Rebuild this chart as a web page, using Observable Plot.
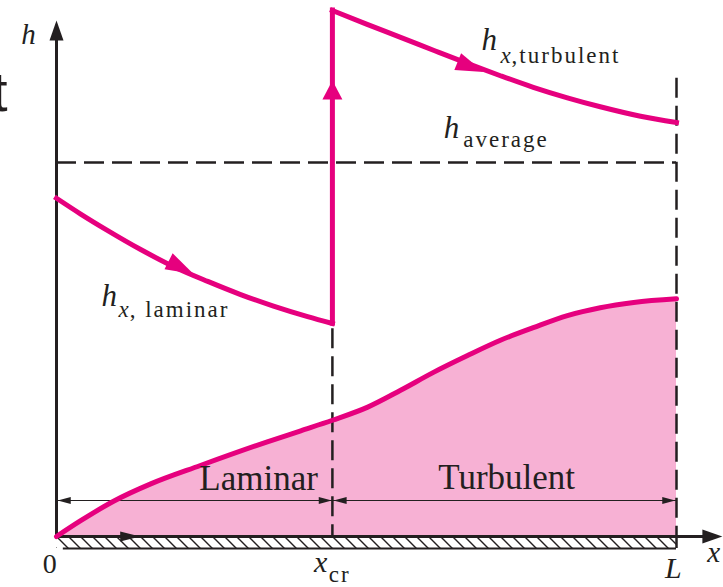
<!DOCTYPE html>
<html><head><meta charset="utf-8">
<script src="https://cdn.jsdelivr.net/npm/d3@7"></script>
<script src="https://cdn.jsdelivr.net/npm/@observablehq/plot@0.6"></script>
<style>body{margin:0;background:#fff;} #chart{width:723px;height:587px;overflow:hidden}</style>
</head><body><div id="chart"></div>
<script>
// ---- data (x: fraction of plate length L, h: relative height) ----
const X_CR = 0.445;
const H_AVG = 71.1;
const DIM_H = 6.84;
const PLATE_H = -2.28;
const L_TOP = 87.1;
const XCR_TOP = 39.5;

// boundary-layer thickness
const blX = [0, 0.039, 0.092, 0.152, 0.232, 0.340, 0.394, 0.445, 0.502, 0.555, 0.608, 0.663, 0.716, 0.769, 0.824, 0.877, 0.931, 1];
const blH = [0, 3.0, 6.7, 10.0, 13.5, 18.0, 20.1, 22.1, 24.6, 27.8, 31.2, 34.4, 37.3, 39.7, 42.0, 43.5, 44.5, 45.2];

// local h, laminar region
const lamX = [0, 0.039, 0.082, 0.135, 0.189, 0.244, 0.297, 0.35, 0.405, 0.445];
const lamH = [64.3, 61.3, 58.2, 54.6, 51.3, 48.5, 46.0, 43.8, 41.8, 40.5];

// local h, turbulent region
const turbX = [0.445, 0.5, 0.555, 0.611, 0.668, 0.716, 0.769, 0.824, 0.877, 0.942, 1];
const turbH = [100, 97.4, 94.9, 92.3, 89.7, 87.6, 85.4, 83.4, 81.7, 79.9, 78.7];

// arrowheads
const arrowX = [0.221, 0.689, 0.445, 0.135, 0, 1.074, 0.002, 0.444, 0.447, 0.998];
const arrowH = [49.9, 88.3, 86.7, 0, 98.1, 0, DIM_H, DIM_H, DIM_H, DIM_H];
const arrowAngle = [117, 112, 0, 90, 0, 90, -90, 90, -90, 90];
const arrowKind = ["curve", "curve", "jump", "plate", "axis", "axis", "dim", "dim", "dim", "dim"];

// labels
const labelText = ["h", "x", "0", "x", "cr", "L", "h", "x", ", laminar", "h", "x", ",turbulent", "h", "average", "Laminar", "Turbulent", "t"];
const labelX = [-0.045, 1.06, -0.011, 0.426, 0.439, 0.995, 0.085, 0.1, 0.118, 0.698, 0.716, 0.734, 0.637, 0.656, 0.326, 0.726, -0.079];
const labelH = [93.7, -4.94, -7.03, -6.84, -8.7, -7.98, 43.9, 41.8, 41.8, 92.4, 90.1, 90.1, 75.7, 74.0, 8.75, 8.94, 80.8];
const labelKind = ["axisItalic", "axisItalic", "tickRoman", "tickItalic", "subRoman", "tickItalic", "mainH", "subItalic", "subRoman", "mainH", "subItalic", "subRoman", "mainH", "subRoman", "region", "region", "artifact"];

// ---- tables ----
const bl = blX.map((x, i) => ({x, h: blH[i]}));
const lam = lamX.map((x, i) => ({x, h: lamH[i]}));
const turb = turbX.map((x, i) => ({x, h: turbH[i]}));
const arrows = arrowX.map((x, i) => ({x, h: arrowH[i], a: arrowAngle[i], k: arrowKind[i]}));
const labels = labelText.map((t, i) => ({t, x: labelX[i], h: labelH[i], k: labelKind[i]}));

const MAG = "#e6007e", PINK = "#f7b1d4", INK = "#231f20";
const SERIF = "'Liberation Serif', 'Times New Roman', serif";

function arrowSymbol(len, half) {
  return {draw(ctx) { ctx.moveTo(0, 0); ctx.lineTo(half, len); ctx.lineTo(-half, len); ctx.closePath(); }};
}
const arrowStyles = {
  curve: {sym: arrowSymbol(28, 9), fill: MAG},
  jump: {sym: arrowSymbol(19, 10), fill: MAG},
  plate: {sym: arrowSymbol(20, 5), fill: INK},
  axis: {sym: arrowSymbol(20, 7), fill: INK},
  dim: {sym: arrowSymbol(13, 3.5), fill: INK}
};
const textStyles = {
  axisItalic: {fontSize: 29, fontStyle: "italic", textAnchor: "middle", fontFamily: SERIF},
  tickRoman: {fontSize: 28, textAnchor: "middle", fontFamily: SERIF},
  tickItalic: {fontSize: 30, fontStyle: "italic", textAnchor: "middle", fontFamily: SERIF},
  subRoman: {fontSize: 23, textAnchor: "start", fontFamily: SERIF},
  subItalic: {fontSize: 23, fontStyle: "italic", textAnchor: "start", fontFamily: SERIF},
  mainH: {fontSize: 31, fontStyle: "italic", textAnchor: "middle", fontFamily: SERIF},
  region: {fontSize: 35, textAnchor: "middle", fontFamily: SERIF},
  artifact: {fontSize: 56, textAnchor: "end", fontFamily: "'Liberation Sans', Arial, sans-serif"}
};
const dash = "20,8";

const marks = [
  Plot.areaY(bl, {x: "x", y: "h", curve: "monotone-x", fill: PINK}),
  Plot.rect([0], {x1: 0, x2: 1, y1: PLATE_H, y2: 0, fill: "url(#hatch)"}),
  Plot.ruleY([PLATE_H], {x1: 0.011, x2: 1, stroke: INK, strokeWidth: 2}),
  Plot.ruleX([1], {y1: PLATE_H, y2: 0, stroke: INK, strokeWidth: 2.5}),
  Plot.ruleY([H_AVG], {x1: 0, x2: 1, stroke: INK, strokeWidth: 2.5, strokeDasharray: dash}),
  Plot.ruleX([X_CR], {y1: XCR_TOP, y2: 0, stroke: INK, strokeWidth: 2.5, strokeDasharray: dash}),
  Plot.ruleX([1], {y1: L_TOP, y2: 0, stroke: INK, strokeWidth: 2.5, strokeDasharray: dash}),
  Plot.ruleY([DIM_H], {x1: 0, x2: 1, stroke: INK, strokeWidth: 1.2}),
  Plot.ruleX([0], {y1: 0, y2: 95, stroke: INK, strokeWidth: 3}),
  Plot.ruleY([0], {x1: 0, x2: 1.045, stroke: INK, strokeWidth: 3}),
  Plot.line(bl, {x: "x", y: "h", curve: "monotone-x", stroke: MAG, strokeWidth: 5}),
  Plot.line(lam, {x: "x", y: "h", curve: "monotone-x", stroke: MAG, strokeWidth: 5, strokeLinecap: "square"}),
  Plot.ruleX([X_CR], {y1: lamH[lamH.length - 1], y2: turbH[0], stroke: MAG, strokeWidth: 5, strokeLinecap: "square"}),
  Plot.line(turb, {x: "x", y: "h", curve: "monotone-x", stroke: MAG, strokeWidth: 5, strokeLinecap: "square"}),
  ...Object.entries(arrowStyles).map(([k, s]) =>
    Plot.dot(arrows.filter(d => d.k === k), {x: "x", y: "h", rotate: "a", r: 5, symbol: s.sym, fill: s.fill, stroke: "none"})),
  ...Object.entries(textStyles).map(([k, s]) =>
    Plot.text(labels.filter(d => d.k === k), {x: "x", y: "h", text: "t", lineAnchor: "bottom", fill: INK, ...s}))
];

const chart = Plot.plot({
  width: 723, height: 587,
  marginLeft: 56, marginRight: 47, marginTop: 10, marginBottom: 51,
  x: {domain: [0, 1], axis: null},
  y: {domain: [0, 100], axis: null},
  style: {background: "white", overflow: "visible"},
  marks
});
chart.insertAdjacentHTML("afterbegin",
  `<defs><pattern id="hatch" patternUnits="userSpaceOnUse" width="12" height="12">
     <path d="M-2,-2L14,14M-2,10L2,14M10,-2L14,2" stroke="${INK}" stroke-width="1.4"/>
   </pattern></defs>`);
chart.querySelectorAll('g[aria-label="text"][font-size="23"]').forEach(g => g.setAttribute("letter-spacing", "2"));
document.getElementById("chart").appendChild(chart);
</script></body></html>
